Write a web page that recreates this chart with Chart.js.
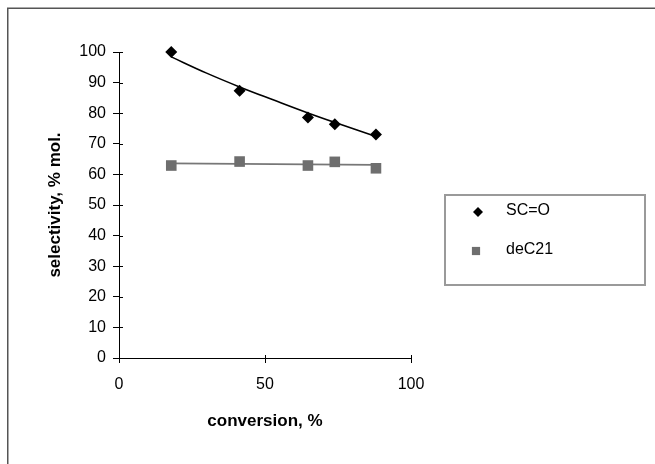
<!DOCTYPE html>
<html><head><meta charset="utf-8">
<script src="https://cdn.jsdelivr.net/npm/chart.js@4/dist/chart.umd.min.js"></script>
<style>html,body{margin:0;padding:0;background:#fff}#wrap{width:655px;height:464px;position:relative}</style>
</head><body><div id="wrap"><canvas id="c" width="655" height="464"></canvas></div>
<script>
// Data
const conversion = [17.9, 41.3, 64.7, 73.9, 88.0];
const selectivitySCO = [100.0, 87.3, 78.6, 76.4, 73.0];
const selectivityDeC21 = [62.9, 64.2, 62.9, 64.1, 62.0];
// Trend lines as drawn in the picture
const trendSCOX = [17.9, 30, 41.3, 53, 64.7, 76, 88.0];
const trendSCOY = [98.4, 93.1, 88.6, 84.3, 80.1, 76.3, 72.4];
const trendDeC21X = [17.9, 88.0];
const trendDeC21Y = [63.6, 63.1];
const xTicks = [0, 50, 100];
const yTicks = [0, 10, 20, 30, 40, 50, 60, 70, 80, 90, 100];
const seriesLabels = ['SC=O', 'deC21'];
const xTitle = 'conversion, %';
const yTitle = 'selectivity, % mol.';

const FONT = "'Liberation Sans', Arial, Helvetica, sans-serif";
const pts = (xs, ys) => xs.map((x, i) => ({x: x, y: ys[i]}));

const frameAndLegend = {
  id: 'frameAndLegend',
  afterDraw(chart) {
    const ctx = chart.ctx;
    ctx.save();
    // outer frame
    ctx.strokeStyle = '#555';
    ctx.lineWidth = 1.5;
    ctx.strokeRect(7.75, 8.25, 700, 500);
    // inner half of crossing tick marks
    ctx.strokeStyle = '#000';
    ctx.lineWidth = 1;
    const xs = chart.scales.x, ys = chart.scales.y;
    ctx.beginPath();
    xs.ticks.forEach(t => {
      const px = Math.round(xs.getPixelForValue(t.value)) + 0.5;
      ctx.moveTo(px, ys.bottom); ctx.lineTo(px, ys.bottom - 3);
    });
    ys.ticks.forEach(t => {
      const py = Math.round(ys.getPixelForValue(t.value)) + 0.5;
      ctx.moveTo(xs.left, py); ctx.lineTo(xs.left + 4, py);
    });
    ctx.stroke();
    // legend box
    ctx.strokeStyle = '#9a9a9a';
    ctx.lineWidth = 2;
    ctx.strokeRect(445, 195, 200, 90);
    const rows = [
      {ds: chart.data.datasets[0], x: 478, y: 212, r: 5},
      {ds: chart.data.datasets[1], x: 476, y: 251, r: 5.8}
    ];
    rows.forEach(row => {
      ctx.fillStyle = row.ds.backgroundColor;
      Chart.helpers.drawPoint(ctx, {pointStyle: row.ds.pointStyle, radius: row.r, rotation: 0, borderWidth: 0}, row.x, row.y);
      ctx.fillStyle = '#000';
      ctx.font = '16px ' + FONT;
      ctx.textBaseline = 'middle';
      ctx.textAlign = 'left';
      ctx.fillText(row.ds.label, 506, row.y - 1);
    });
    ctx.restore();
  }
};

new Chart(document.getElementById('c'), {
  type: 'scatter',
  data: {
    datasets: [
      {label: seriesLabels[0], data: pts(conversion, selectivitySCO), pointStyle: 'rectRot', pointRadius: 6,
       backgroundColor: '#000', borderColor: '#000', borderWidth: 0, showLine: false, clip: false, order: 0},
      {label: seriesLabels[1], data: pts(conversion, selectivityDeC21), pointStyle: 'rect', pointRadius: 7.5,
       backgroundColor: '#6e6e6e', borderColor: '#6e6e6e', borderWidth: 0, showLine: false, clip: false, order: 0},
      {label: 'trend ' + seriesLabels[0], data: pts(trendSCOX, trendSCOY), showLine: true, pointRadius: 0,
       borderColor: '#000', borderWidth: 1.6, tension: 0.4, clip: false, order: 1},
      {label: 'trend ' + seriesLabels[1], data: pts(trendDeC21X, trendDeC21Y), showLine: true, pointRadius: 0,
       borderColor: '#777', borderWidth: 1.6, tension: 0, clip: false, order: 1}
    ]
  },
  options: {
    responsive: false,
    animation: false,
    devicePixelRatio: 1,
    layout: {padding: {left: 0, top: 52, right: 244, bottom: 0}},
    plugins: {legend: {display: false}, tooltip: {enabled: false}},
    scales: {
      x: {
        type: 'linear', min: 0, max: 100,
        afterBuildTicks: s => { s.ticks = xTicks.map(v => ({value: v})); },
        afterFit: s => { s.height = 106; },
        border: {color: '#000', width: 1},
        grid: {drawOnChartArea: false, drawTicks: true, tickLength: 5, color: '#000'},
        ticks: {font: {family: FONT, size: 16}, color: '#000', padding: 12, maxRotation: 0},
        title: {display: true, text: xTitle, font: {family: FONT, size: 17, weight: 'bold'}, color: '#000', padding: {top: 0, bottom: 32}}
      },
      y: {
        type: 'linear', min: 0, max: 100,
        afterBuildTicks: s => { s.ticks = yTicks.map(v => ({value: v})); },
        afterFit: s => { s.width = 119; },
        border: {color: '#000', width: 1},
        grid: {drawOnChartArea: false, drawTicks: true, tickLength: 6, color: '#000'},
        ticks: {font: {family: FONT, size: 16}, color: '#000', padding: 7},
        title: {display: true, text: yTitle, font: {family: FONT, size: 17, weight: 'bold'}, color: '#000', padding: {top: 45, bottom: 0}}
      }
    }
  },
  plugins: [frameAndLegend]
});
</script></body></html>
